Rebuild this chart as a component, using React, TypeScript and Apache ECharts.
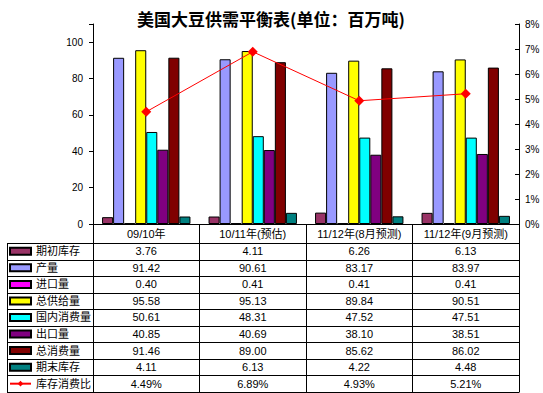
import React, { useEffect, useRef } from "react";
import * as echarts from "echarts";

const categories = ["09/10年", "10/11年(预估)", "11/12年(8月预测)", "11/12年(9月预测)"];
const barNames = ["期初库存", "产量", "进口量", "总供给量", "国内消费量", "出口量", "总消费量", "期末库存"];
const lineName = "库存消费比";
const beginStock = [3.76, 4.11, 6.26, 6.13];
const production = [91.42, 90.61, 83.17, 83.97];
const imports = [0.4, 0.41, 0.41, 0.41];
const totalSupply = [95.58, 95.13, 89.84, 90.51];
const domesticUse = [50.61, 48.31, 47.52, 47.51];
const exportsQty = [40.85, 40.69, 38.1, 38.51];
const totalUse = [91.46, 89.0, 85.62, 86.02];
const endStock = [4.11, 6.13, 4.22, 4.48];
const stockRatio = [4.49, 6.89, 4.93, 5.21];
const leftTickLabels = [0, 20, 40, 60, 80, 100];
const rightTickLabels = [0, 1, 2, 3, 4, 5, 6, 7, 8];

const barColors = ["#993366", "#9999FF", "#FF00FF", "#FFFF00", "#00FFFF", "#800080", "#800000", "#008080"];
const barData = [beginStock, production, imports, totalSupply, domesticUse, exportsQty, totalUse, endStock];

const FONT = "'Liberation Sans', Arial, 'Noto Sans CJK SC', sans-serif";
const GRID_LEFT = 93;
const GRID_RIGHT_X = 519;
const GRID_TOP = 24;
const AXIS_Y = 224;
const HEADER_BOTTOM = 243;
const ROW_H = 16.55;
const TABLE_LEFT = 7;
const ROWS = 9;

export default function App() {
  const ref = useRef<HTMLDivElement>(null);
  useEffect(() => {
    if (!ref.current) return;
    const chart = echarts.init(ref.current, undefined, { renderer: "svg" });
    const tableBottom = HEADER_BOTTOM + ROWS * ROW_H;
    const graphics: any[] = [];
    for (let k = 0; k <= ROWS; k++) {
      const y = Math.round(HEADER_BOTTOM + k * ROW_H) + 0.5;
      graphics.push({
        type: "line",
        shape: { x1: TABLE_LEFT, y1: y, x2: GRID_RIGHT_X + 0.5, y2: y },
        style: { stroke: "#000", lineWidth: 1 },
        silent: true,
      });
    }
    graphics.push({
      type: "line",
      shape: { x1: TABLE_LEFT + 0.5, y1: HEADER_BOTTOM + 0.5, x2: TABLE_LEFT + 0.5, y2: Math.round(tableBottom) + 0.5 },
      style: { stroke: "#000", lineWidth: 1 },
      silent: true,
    });

    const fmtRows = (i: number) => {
      const lines = [`{h|${categories[i]}}`];
      barData.forEach((arr) => lines.push(`{v|${arr[i].toFixed(2)}}`));
      lines.push(`{v|${stockRatio[i].toFixed(2)}%}`);
      return lines.join("\n");
    };

    const series: any[] = barNames.map((name, si) => ({
      name,
      type: "bar",
      data: barData[si],
      yAxisIndex: 0,
      barGap: "0%",
      barCategoryGap: "17%",
      itemStyle: { color: barColors[si], borderColor: "#000", borderWidth: 1 },
    }));
    series.push({
      name: lineName,
      type: "line",
      yAxisIndex: 1,
      data: stockRatio,
      symbol: "diamond",
      symbolSize: 10,
      lineStyle: { color: "#FF0000", width: 1 },
      itemStyle: { color: "#FF0000" },
      z: 10,
    });

    chart.setOption({
      animation: false,
      backgroundColor: "#fff",
      title: {
        text: "美国大豆供需平衡表(单位：百万吨)",
        left: 266,
        textAlign: "center",
        top: 5,
        textStyle: { fontSize: 17, fontWeight: "bold", color: "#000", fontFamily: "'Noto Sans CJK SC', sans-serif" },
      },
      legend: {
        orient: "vertical",
        left: 9,
        top: HEADER_BOTTOM,
        padding: 0,
        itemGap: 0,
        itemWidth: 21,
        itemHeight: 7,
        data: [...barNames.map((n) => ({ name: n, icon: "rect" })), { name: lineName }],
        textStyle: { fontSize: 11, color: "#000", lineHeight: ROW_H, fontFamily: FONT },
        selectedMode: false,
      },
      grid: {
        left: GRID_LEFT,
        right: 543 - GRID_RIGHT_X,
        top: GRID_TOP,
        bottom: 393 - AXIS_Y,
        containLabel: false,
      },
      xAxis: {
        type: "category",
        data: categories,
        axisLine: { lineStyle: { color: "#000", width: 1 } },
        axisTick: { show: true, length: Math.round(tableBottom - AXIS_Y), alignWithLabel: false, interval: 0, lineStyle: { color: "#000" } },
        axisLabel: {
          interval: 0,
          margin: 0,
          formatter: (_v: string, i: number) => fmtRows(i),
          rich: {
            h: { fontSize: 11, lineHeight: HEADER_BOTTOM - AXIS_Y, color: "#000", fontFamily: FONT },
            v: { fontSize: 11, lineHeight: ROW_H, color: "#000", fontFamily: FONT },
          },
        },
      },
      yAxis: [
        {
          type: "value",
          min: 0,
          max: 110,
          interval: 20,
          splitLine: { show: false },
          axisLine: { show: true, lineStyle: { color: "#000" } },
          axisTick: { show: true, length: 4, lineStyle: { color: "#000" } },
          axisLabel: {
            margin: 10,
            fontSize: 10,
            color: "#000",
            fontFamily: FONT,
            formatter: (v: number) => (leftTickLabels.includes(v) ? String(v) : ""),
          },
        },
        {
          type: "value",
          min: 0,
          max: 8,
          interval: 1,
          position: "right",
          splitLine: { show: false },
          axisLine: { show: true, lineStyle: { color: "#000" } },
          axisTick: { show: true, inside: true, length: 4, lineStyle: { color: "#000" } },
          axisLabel: {
            margin: 6,
            fontSize: 10,
            color: "#000",
            fontFamily: FONT,
            formatter: (v: number) => (rightTickLabels.includes(v) ? `${v}%` : ""),
          },
        },
      ],
      graphic: graphics,
      series,
    });
    return () => chart.dispose();
  }, []);
  return <div ref={ref} style={{ position: "fixed", left: 0, top: 0, width: 543, height: 393 }} />;
}
